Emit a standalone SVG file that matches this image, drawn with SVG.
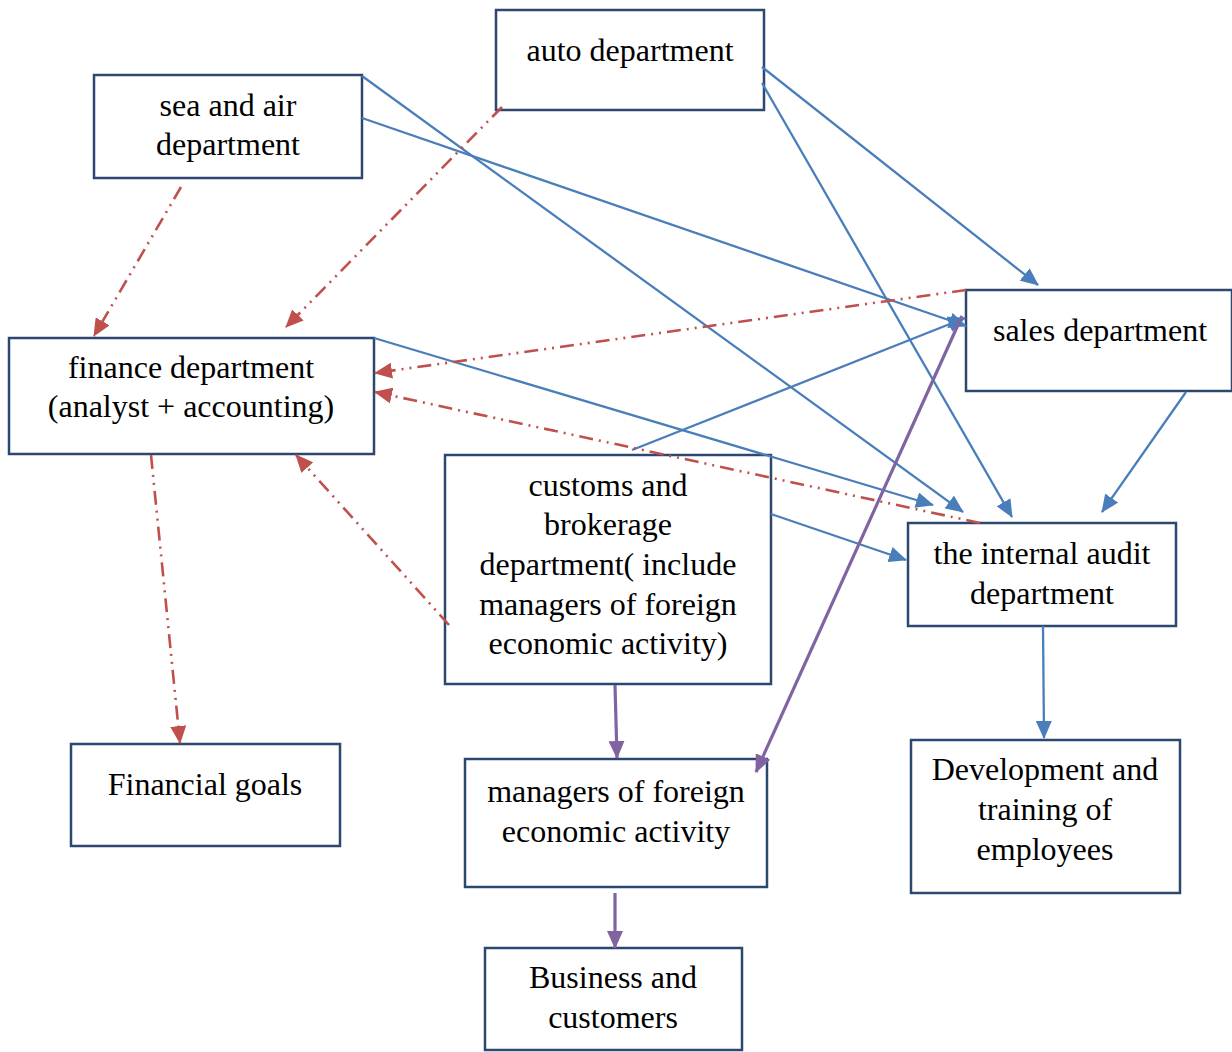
<svg xmlns="http://www.w3.org/2000/svg" width="1232" height="1052" viewBox="0 0 1232 1052">
  <style>
    .box { fill: #ffffff; stroke: #2c4770; stroke-width: 2.5; }
    .lbl { font-family: "Liberation Serif", "Times New Roman", serif; font-size: 32px; fill: #000000; text-anchor: middle; }
    .blue { stroke: #4a7ebb; stroke-width: 2.3; fill: none; marker-end: url(#ah-blue); }
    .red { stroke: #c0504d; stroke-width: 2.6; fill: none; stroke-dasharray: 14 6 2 6 2 6; marker-end: url(#ah-red); }
    .purple { stroke: #8064a2; stroke-width: 3.2; fill: none; marker-end: url(#ah-purple); }
  </style>
  <defs>
    <marker id="ah-blue" markerUnits="userSpaceOnUse" markerWidth="18" markerHeight="16" refX="17" refY="8" orient="auto">
      <path d="M0,0 L18,8 L0,16 Z" fill="#4a7ebb"/>
    </marker>
    <marker id="ah-red" markerUnits="userSpaceOnUse" markerWidth="18" markerHeight="16" refX="17" refY="8" orient="auto">
      <path d="M0,0 L18,8 L0,16 Z" fill="#c0504d"/>
    </marker>
    <marker id="ah-purple" markerUnits="userSpaceOnUse" markerWidth="18" markerHeight="16" refX="17" refY="8" orient="auto">
      <path d="M0,0 L18,8 L0,16 Z" fill="#8064a2"/>
    </marker>
  </defs>
  <rect width="1232" height="1052" fill="#ffffff"/>

  <!-- departments and outcomes -->
  <g id="auto">
    <rect class="box" x="496" y="10" width="268" height="100"/>
    <text class="lbl" x="630" y="61">auto department</text>
  </g>
  <g id="sea-air">
    <rect class="box" x="94" y="75" width="268" height="103"/>
    <text class="lbl" x="228" y="116">sea and air</text>
    <text class="lbl" x="228" y="155">department</text>
  </g>
  <g id="finance">
    <rect class="box" x="9" y="338" width="365" height="116"/>
    <text class="lbl" x="191" y="378">finance department</text>
    <text class="lbl" x="191" y="417">(analyst + accounting)</text>
  </g>
  <g id="sales">
    <rect class="box" x="966" y="290" width="266" height="101"/>
    <text class="lbl" x="1100" y="341">sales department</text>
  </g>
  <g id="customs">
    <rect class="box" x="445" y="455" width="326" height="229"/>
    <text class="lbl" x="608" y="496">customs and</text>
    <text class="lbl" x="608" y="535">brokerage</text>
    <text class="lbl" x="608" y="575">department( include</text>
    <text class="lbl" x="608" y="615">managers of foreign</text>
    <text class="lbl" x="608" y="654">economic activity)</text>
  </g>
  <g id="audit">
    <rect class="box" x="908" y="523" width="268" height="103"/>
    <text class="lbl" x="1042" y="564">the internal audit</text>
    <text class="lbl" x="1042" y="604">department</text>
  </g>
  <g id="goals">
    <rect class="box" x="71" y="744" width="269" height="102"/>
    <text class="lbl" x="205" y="795">Financial goals</text>
  </g>
  <g id="managers">
    <rect class="box" x="465" y="759" width="302" height="128"/>
    <text class="lbl" x="616" y="802">managers of foreign</text>
    <text class="lbl" x="616" y="842">economic activity</text>
  </g>
  <g id="training">
    <rect class="box" x="911" y="740" width="269" height="153"/>
    <text class="lbl" x="1045" y="780">Development and</text>
    <text class="lbl" x="1045" y="820">training of</text>
    <text class="lbl" x="1045" y="860">employees</text>
  </g>
  <g id="business">
    <rect class="box" x="485" y="948" width="257" height="102"/>
    <text class="lbl" x="613" y="988">Business and</text>
    <text class="lbl" x="613" y="1028">customers</text>
  </g>

  <!-- connectors -->
  <g id="connectors">
    <!-- reporting lines (solid blue) -->
    <line class="blue" x1="362" y1="76" x2="963" y2="512"/>
    <line class="blue" x1="362" y1="118" x2="966" y2="326"/>
    <line class="blue" x1="762" y1="67" x2="1038" y2="285"/>
    <line class="blue" x1="762" y1="83" x2="1012" y2="517"/>
    <line class="blue" x1="374" y1="338" x2="933" y2="505"/>
    <line class="blue" x1="632" y1="450" x2="965" y2="318"/>
    <line class="blue" x1="771" y1="514" x2="906" y2="560"/>
    <line class="blue" x1="1186" y1="392" x2="1102" y2="512"/>
    <line class="blue" x1="1043" y1="626" x2="1044" y2="738"/>
    <!-- financial flows (red dash-dot-dot) -->
    <line class="red" x1="181" y1="187" x2="94" y2="336"/>
    <line class="red" x1="502" y1="107" x2="286" y2="327"/>
    <line class="red" x1="966" y1="290" x2="375" y2="373"/>
    <line class="red" x1="980" y1="523" x2="375" y2="392"/>
    <line class="red" x1="449" y1="625" x2="296" y2="455"/>
    <line class="red" x1="151" y1="455" x2="180" y2="743"/>
    <!-- client-facing flows (purple) -->
    <line class="purple" x1="615" y1="685" x2="617" y2="758"/>
    <line class="purple" x1="962" y1="316" x2="756" y2="772"/>
    <line class="purple" x1="615" y1="893" x2="615" y2="948"/>
  </g>
</svg>
